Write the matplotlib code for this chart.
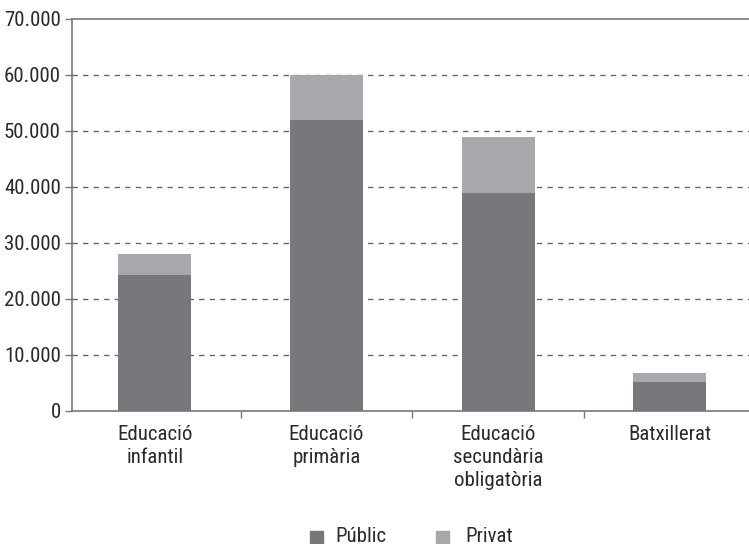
import matplotlib
matplotlib.use("Agg")
import matplotlib.pyplot as plt
from matplotlib import font_manager
from matplotlib.patches import Rectangle

names = {f.name for f in font_manager.fontManager.ttflist}
family = "DejaVu Sans"
for cand in ["Roboto Condensed", "Liberation Sans Narrow", "Open Sans Condensed", "Roboto"]:
    if cand in names:
        family = cand
        break
plt.rcParams["font.family"] = [family, "DejaVu Sans"]

categories = ["Educació\ninfantil", "Educació\nprimària", "Educació\nsecundària\nobligatòria", "Batxillerat"]
public = [24200, 52000, 39000, 5100]
private = [3800, 8000, 10000, 1600]
yticks = [0, 10000, 20000, 30000, 40000, 50000, 60000, 70000]
ytick_labels = ["0", "10.000", "20.000", "30.000", "40.000", "50.000", "60.000", "70.000"]
series_names = ["Públic", "Privat"]

c_pub = "#77787b"
c_priv = "#a7a8ab"
text_c = "#2a2a2a"
axis_c = "#777777"
fs = 15 if family != "Roboto" else 13

fig = plt.figure(figsize=(7.49, 5.44), dpi=100)
ax = fig.add_axes([72 / 749, 1 - 411 / 544, 1 - 72 / 749, (411 - 19) / 544])

x = list(range(len(categories)))
w = 0.425
ax.bar(x, public, w, color=c_pub, zorder=3)
ax.bar(x, private, w, bottom=public, color=c_priv, zorder=3)

ax.set_xlim(-0.482, 3.461)
ax.set_ylim(0, 70000)
ax.set_yticks(yticks)
ax.set_yticklabels(ytick_labels, fontsize=fs, color=text_c)
for yv in yticks[1:-1]:
    ax.axhline(yv, color="#666666", lw=1.0, ls=(0, (3.8, 3.8)), zorder=1)

ax.set_xticks([0.5, 1.5, 2.5])
ax.set_xticklabels([])
ax.tick_params(axis="x", length=5, color=axis_c, width=1)
ax.tick_params(axis="y", length=5, color=axis_c, width=1, pad=3)
for xi, lab in zip(x, categories):
    ax.text(xi, -0.036, lab, transform=ax.get_xaxis_transform(), ha="center", va="top",
            fontsize=fs, color=text_c, linespacing=1.25)

for s in ["left", "bottom", "top"]:
    ax.spines[s].set_color(axis_c)
    ax.spines[s].set_linewidth(1.2)
ax.spines["right"].set_visible(False)

# legend drawn in figure pixel coordinates
for (sx, tx, col, name) in [(310, 335, c_pub, series_names[0]), (436, 465, c_priv, series_names[1])]:
    fig.patches.append(Rectangle((sx / 749, 1 - 543 / 544), 13 / 749, 12 / 544,
                                 transform=fig.transFigure, color=col))
    fig.text(tx / 749, 1 - 536 / 544, name, ha="left", va="center", fontsize=fs, color=text_c)

fig.savefig("out.png", dpi=100)
